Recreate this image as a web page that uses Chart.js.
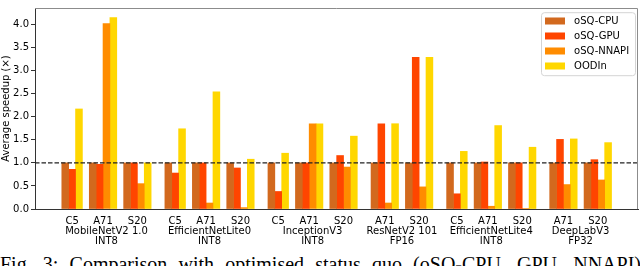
<!DOCTYPE html>
<html>
<head>
<meta charset="utf-8">
<script src="https://cdn.jsdelivr.net/npm/chart.js@4.4.0/dist/chart.umd.min.js"></script>
<style>
  html, body { margin: 0; padding: 0; background: #fff; overflow: hidden; }
  body { width: 640px; height: 266px; position: relative; }
  #wrap { position: absolute; left: 0; top: 0; width: 640px; height: 250px; }
  #caption {
    position: absolute; left: 0; top: 254px; width: 641px;
    font-family: 'Liberation Serif', serif; font-size: 20px; line-height: 20px;
    text-align: justify; text-align-last: justify; color: #000;
  }
</style>
</head>
<body>
<div id="wrap"><canvas id="graficoSpeedup"></canvas></div>
<div id="caption">Fig. 3: Comparison with optimised status quo (oSQ-CPU, GPU, NNAPI)</div>
<script>
// Dados
const devices = ['C5', 'A71', 'S20', 'C5', 'A71', 'S20', 'C5', 'A71', 'S20', 'A71', 'S20', 'C5', 'A71', 'S20', 'A71', 'S20'];
const modelIndex = [0, 0, 0, 1, 1, 1, 2, 2, 2, 3, 3, 4, 4, 4, 5, 5];
const models = ['MobileNetV2 1.0', 'EfficientNetLite0', 'InceptionV3', 'ResNetV2 101', 'EfficientNetLite4', 'DeepLabV3'];
const precisions = ['INT8', 'INT8', 'INT8', 'FP16', 'INT8', 'FP32'];

const cpuSpeedup   = [1.00, 1.00, 1.00, 1.00, 1.00, 1.00, 1.00, 1.00, 1.00, 1.00, 1.00, 1.00, 1.00, 1.00, 1.00, 1.00];
const gpuSpeedup   = [0.86, 0.97, 1.00, 0.78, 1.00, 0.89, 0.38, 1.00, 1.16, 1.85, 3.29, 0.33, 1.02, 1.00, 1.51, 1.07];
const nnapiSpeedup = [null, 4.02, 0.55, null, 0.13, 0.03, null, 1.85, 0.91, 0.13, 0.48, null, 0.06, 0.01, 0.53, 0.63];
const oodinSpeedup = [2.17, 4.15, 1.00, 1.74, 2.54, 1.08, 1.21, 1.85, 1.58, 1.85, 3.29, 1.25, 1.81, 1.34, 1.52, 1.44];
const baseline = 1.0;

// Posições: barras encostadas, 1 barra de espaço entre aparelhos, 2 entre modelos
const seriesList = [cpuSpeedup, gpuSpeedup, nnapiSpeedup, oodinSpeedup];
const centers = [];
const groupSpan = [];
let cursor = 0;
devices.forEach((d, i) => {
    const g = modelIndex[i];
    if (i > 0) cursor += g !== modelIndex[i - 1] ? 2 : 1;
    const n = seriesList.filter(s => s[i] !== null).length;
    if (!groupSpan[g]) groupSpan[g] = [cursor, cursor];
    centers.push(cursor + n / 2);
    cursor += n;
    groupSpan[g][1] = cursor;
});
const span = cursor;

const tickDefs = devices.map((d, i) => ({ value: centers[i], label: d }))
    .concat(models.map((m, g) => ({ value: (groupSpan[g][0] + groupSpan[g][1]) / 2, label: ['', m, precisions[g]] })));

const toPoints = vals => vals.map((v, i) => ({ x: centers[i], y: v }));

// Linha tracejada, bordas e legenda dentro do gráfico
const extras = {
    id: 'extras',
    afterDatasetsDraw(chart) {
        const { ctx, chartArea, scales } = chart;
        const y = scales.y.getPixelForValue(baseline);
        ctx.save();
        ctx.strokeStyle = '#222';
        ctx.lineWidth = 1.3;
        ctx.setLineDash([4.5, 2]);
        ctx.beginPath();
        ctx.moveTo(chartArea.left, y);
        ctx.lineTo(chartArea.right, y);
        ctx.stroke();
        ctx.setLineDash([]);
        ctx.strokeStyle = '#8c8c8c';
        ctx.lineWidth = 1;
        ctx.beginPath();
        ctx.moveTo(chartArea.left, chartArea.top + 0.5);
        ctx.lineTo(chartArea.right - 0.5, chartArea.top + 0.5);
        ctx.lineTo(chartArea.right - 0.5, chartArea.bottom);
        ctx.stroke();
        ctx.restore();
    },
    afterDraw(chart) {
        const { ctx, chartArea } = chart;
        const items = chart.data.datasets;
        ctx.save();
        ctx.font = '10px "DejaVu Sans"';
        const textW = Math.max(...items.map(d => ctx.measureText(d.label).width));
        const w = 33 + textW + 6, h = 63;
        const x0 = chartArea.right - 2.5 - w, y0 = chartArea.top + 4.7;
        ctx.beginPath();
        ctx.roundRect(x0, y0, w, h, 3);
        ctx.fillStyle = 'rgba(255,255,255,0.8)';
        ctx.fill();
        ctx.strokeStyle = '#d4d4d4';
        ctx.lineWidth = 1;
        ctx.stroke();
        ctx.textBaseline = 'middle';
        items.forEach((d, k) => {
            const cy = y0 + 8.3 + 15 * k;
            ctx.fillStyle = d.backgroundColor;
            ctx.fillRect(x0 + 3.5, cy - 3.5, 20, 7);
            ctx.fillStyle = '#000';
            ctx.fillText(d.label, x0 + 32.6, cy);
        });
        ctx.restore();
    }
};

Chart.defaults.color = '#000';
Chart.defaults.font.family = "'DejaVu Sans', sans-serif";
Chart.defaults.font.size = 10;

new Chart(document.getElementById('graficoSpeedup').getContext('2d'), {
    type: 'bar',
    data: {
        datasets: [
            { label: 'oSQ-CPU', data: toPoints(cpuSpeedup), backgroundColor: '#D2691E' },
            { label: 'oSQ-GPU', data: toPoints(gpuSpeedup), backgroundColor: '#FF4500' },
            { label: 'oSQ-NNAPI', data: toPoints(nnapiSpeedup), backgroundColor: '#FF8C00' },
            { label: 'OODIn', data: toPoints(oodinSpeedup), backgroundColor: '#FFD700' }
        ]
    },
    options: {
        responsive: true,
        maintainAspectRatio: false,
        animation: false,
        datasets: { bar: { barThickness: 6.87, skipNull: true, borderWidth: 0 } },
        layout: { padding: { top: 2, right: 2, left: 0, bottom: 0 } },
        plugins: { legend: { display: false }, tooltip: { enabled: false } },
        scales: {
            x: {
                type: 'linear',
                min: -3.9,
                max: span + 3.85,
                offset: false,
                grid: { display: false, drawTicks: false, offset: false },
                border: { display: true, color: '#333' },
                afterBuildTicks: axis => { axis.ticks = tickDefs.map(t => ({ value: t.value })); },
                afterFit: axis => { axis.height = 41; },
                ticks: {
                    autoSkip: false,
                    maxRotation: 0,
                    minRotation: 0,
                    padding: 7,
                    font: { size: 10, lineHeight: 1.03 },
                    callback: (v, i) => tickDefs[i].label
                }
            },
            y: {
                min: 0,
                max: 4.36,
                grid: { display: true, drawOnChartArea: false, drawTicks: true, tickLength: 4, color: '#333' },
                border: { display: true, color: '#333' },
                afterFit: axis => { axis.width = 35; },
                title: { display: true, text: 'Average speedup (×)', padding: 0, font: { size: 10 } },
                ticks: {
                    stepSize: 0.5,
                    includeBounds: false,
                    padding: 2,
                    callback: v => v.toFixed(1)
                }
            }
        }
    },
    plugins: [extras]
});
</script>
</body>
</html>
